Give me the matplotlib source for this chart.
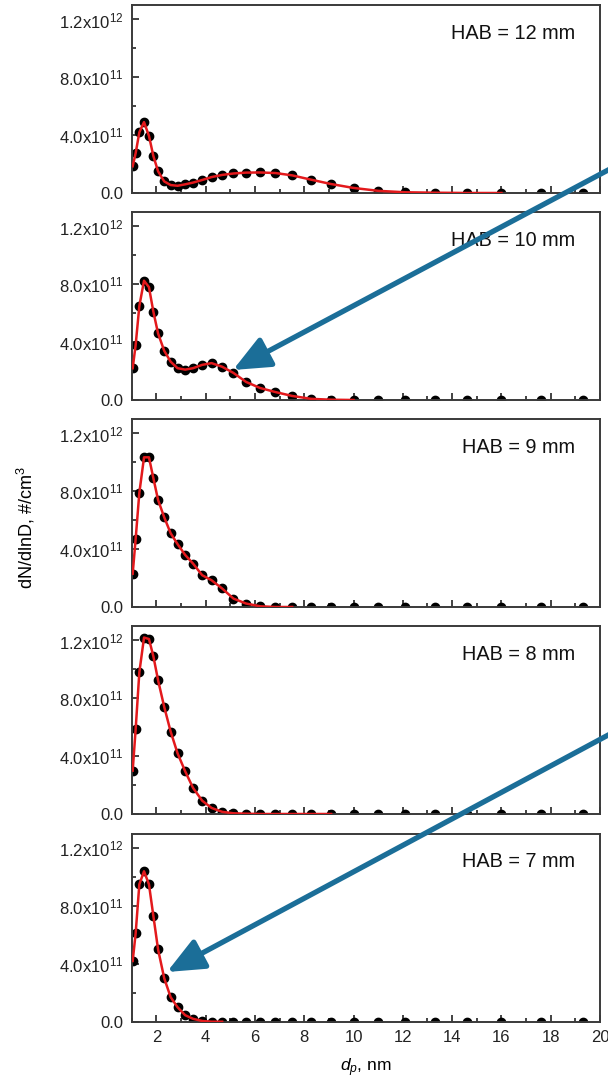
import numpy as np
import matplotlib.pyplot as plt
from matplotlib.patches import FancyArrowPatch
from matplotlib.ticker import MultipleLocator, FixedLocator

plt.rcParams['font.family'] = ['Liberation Sans', 'DejaVu Sans']
plt.rcParams['mathtext.fontset'] = 'custom'
plt.rcParams['mathtext.rm'] = 'Liberation Sans'
plt.rcParams['mathtext.it'] = 'Liberation Sans:italic'

# particle diameter, nm
dp = [1.04, 1.16, 1.31, 1.50, 1.70, 1.88, 2.07, 2.32, 2.58, 2.86, 3.17, 3.49,
      3.86, 4.24, 4.67, 5.13, 5.64, 6.21, 6.83, 7.51, 8.28, 9.09, 10.0, 11.0,
      12.1, 13.3, 14.6, 16.0, 17.6, 19.3]

# dN/dlnD in units of 1e11 #/cm3
hab12 = [1.85, 2.75, 4.2, 4.9, 3.95, 2.55, 1.5, 0.8, 0.55, 0.5, 0.6, 0.72,
         0.9, 1.1, 1.25, 1.35, 1.41, 1.42, 1.38, 1.22, 0.92, 0.62, 0.35, 0.15,
         0.05, 0.02, 0.0, 0.0, 0.0, 0.0]
hab10 = [2.2, 3.8, 6.5, 8.25, 7.8, 6.1, 4.6, 3.4, 2.65, 2.2, 2.1, 2.2,
         2.43, 2.55, 2.3, 1.87, 1.25, 0.83, 0.55, 0.28, 0.08, 0.02, 0.0, 0.0,
         0.0, 0.0, 0.0, 0.0, 0.0, 0.0]
hab9 = [2.3, 4.7, 7.9, 10.35, 10.35, 8.9, 7.4, 6.2, 5.1, 4.35, 3.6, 3.0,
        2.2, 1.85, 1.28, 0.58, 0.24, 0.05, 0.0, 0.0, 0.0, 0.0, 0.0, 0.0,
        0.0, 0.0, 0.0, 0.0, 0.0, 0.0]
hab8 = [3.0, 5.85, 9.8, 12.2, 12.1, 10.9, 9.25, 7.4, 5.7, 4.2, 2.95, 1.8,
        0.92, 0.42, 0.15, 0.05, 0.02, 0.0, 0.0, 0.0, 0.0, 0.0, 0.0, 0.0,
        0.0, 0.0, 0.0, 0.0, 0.0, 0.0]
hab7 = [4.2, 6.1, 9.5, 10.4, 9.5, 7.3, 5.0, 3.0, 1.7, 1.0, 0.45, 0.2,
        0.05, 0.0, 0.0, 0.0, 0.0, 0.0, 0.0, 0.0, 0.0, 0.0, 0.0, 0.0,
        0.0, 0.0, 0.0, 0.0, 0.0, 0.0]

labels = ["HAB = 12 mm", "HAB = 10 mm", "HAB = 9 mm", "HAB = 8 mm", "HAB = 7 mm"]
series = [hab12, hab10, hab9, hab8, hab7]
fit_end = [16.0, 10.0, 7.51, 9.09, 4.67]   # where the red fit stops

ytick_vals = [0.0, 4.0e11, 8.0e11, 1.2e12]
ytick_text = ["0.0", r"$\mathregular{4.0x10^{11}}$", r"$\mathregular{8.0x10^{11}}$",
              r"$\mathregular{1.2x10^{12}}$"]

W, H = 608, 1082
fig = plt.figure(figsize=(W / 100, H / 100), dpi=100)

left = 131.7 / W
width = (600 - 131.7) / W
ph = 188 / H
tops = [5, 212, 419, 626, 833.7]

x = np.array(dp)
for i in range(5):
    y = np.array(series[i]) * 1e11
    ax = fig.add_axes([left, 1 - (tops[i] + 188) / H, width, ph])
    ax.plot(x, y, 'o', color='black', ms=6, zorder=2, clip_on=True)
    m = x <= fit_end[i]
    ax.plot(x[m], y[m], '-', color='#e3191c', lw=1.8, zorder=3)
    ax.set_xlim(1, 20)
    ax.set_ylim(0, 1.3e12)
    ax.xaxis.set_major_locator(MultipleLocator(2))
    ax.xaxis.set_minor_locator(MultipleLocator(1))
    ax.yaxis.set_major_locator(FixedLocator(ytick_vals))
    ax.yaxis.set_minor_locator(FixedLocator([2e11, 6e11, 1.0e12]))
    ax.set_yticklabels(ytick_text)
    ax.tick_params(which='both', direction='in', top=False, right=False,
                   labelsize=12, colors='#222222', width=1.2)
    ax.tick_params(which='major', length=5, pad=6)
    ax.tick_params(which='minor', length=3)
    for s in ax.spines.values():
        s.set_linewidth(1.4)
        s.set_color('#3a3a3a')
    if i < 4:
        ax.set_xticklabels([])
    else:
        ax.set_xlabel(r"$\mathit{d_p}$, nm", fontsize=12.5, labelpad=8)
    ax.text(0.947, 0.85, labels[i], transform=ax.transAxes, ha='right',
            va='center', fontsize=14.3, color='#111111')

fig.text(26 / W, 1 - 528 / H, r"dN/dlnD, #/cm$^\mathregular{3}$", rotation=90,
         ha='center', va='center', fontsize=13)

# arrows pointing at the shoulders (pixel coords -> figure fraction)
def px(xp, yp):
    return (xp / W, 1 - yp / H)

for tail, head in [((625, 161), (233, 370)), ((625, 726), (167, 972))]:
    arr = FancyArrowPatch(px(*tail), px(*head), transform=fig.transFigure,
                          arrowstyle='-|>,head_length=1.6,head_width=0.7',
                          mutation_scale=14, color='#1b6e98', lw=3.8,
                          shrinkA=0, shrinkB=0)
    fig.patches.append(arr)

fig.savefig('out.png', dpi=100)
